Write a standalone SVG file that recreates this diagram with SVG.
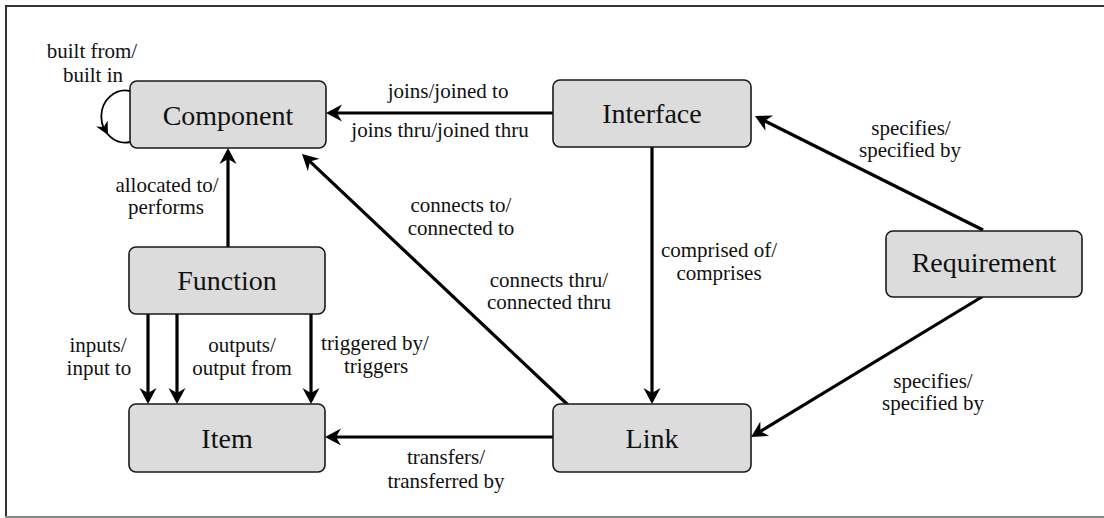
<svg xmlns="http://www.w3.org/2000/svg" width="1104" height="518" viewBox="0 0 1104 518" font-family="Times New Roman, Liberation Serif, Times, serif">
<style>
.node rect{fill:#dcdcdc;stroke:#1a1a1a;stroke-width:1.6}
.nl{font-size:28px;fill:#111;text-anchor:middle}
.el{font-size:21px;fill:#111;text-anchor:middle}
.c{stroke:#000;stroke-width:3.2;fill:none;marker-end:url(#ah)}
</style>
<defs>
<marker id="ah" markerUnits="userSpaceOnUse" viewBox="-17 -9 18 18" refX="-10" refY="0" markerWidth="18" markerHeight="18" orient="auto">
<path d="M0,0 L-16,-8.5 L-11,0 L-16,8.5 Z" fill="#000"/>
</marker>
</defs>
<rect width="1104" height="518" fill="#fff"/>
<g id="frame">
<line x1="5" y1="6" x2="1104" y2="6" stroke="#333" stroke-width="2"/>
<line x1="6" y1="5" x2="6" y2="517" stroke="#333" stroke-width="2"/>
<line x1="5" y1="517" x2="1104" y2="517" stroke="#888" stroke-width="2"/>
</g>
<g id="connectors">
<path class="c" d="M553,113 L336,113"/>
<path class="c" d="M228,247 L228,158"/>
<path class="c" d="M568,405 L309.3,160.9"/>
<path class="c" d="M652,147 L652,394"/>
<path class="c" d="M983,230 L763.9,120.5"/>
<path class="c" d="M985,295 L759.6,431.8"/>
<path class="c" d="M553,437 L335,437"/>
<path class="c" d="M148,314 L148,394"/>
<path class="c" d="M177,314 L177,394"/>
<path class="c" d="M311,314 L311,394"/>
<path d="M130,91 A24,26 0 1,0 130,142" fill="none" stroke="#000" stroke-width="1.8"/>
<polygon points="0,0 -13,-6.5 -9,0 -13,6.5" fill="#000" transform="translate(108,135) rotate(62)"/>
</g>
<g id="labels">
<text class="el" x="92" y="58">built from/</text>
<text class="el" x="93" y="82">built in</text>
<text class="el" x="167" y="192">allocated to/</text>
<text class="el" x="166" y="214">performs</text>
<text class="el" x="448" y="98">joins/joined to</text>
<text class="el" x="440" y="137">joins thru/joined thru</text>
<text class="el" x="461" y="212">connects to/</text>
<text class="el" x="461" y="235">connected to</text>
<text class="el" x="549" y="287">connects thru/</text>
<text class="el" x="549" y="309">connected thru</text>
<text class="el" x="719" y="257">comprised of/</text>
<text class="el" x="719" y="280">comprises</text>
<text class="el" x="911" y="135">specifies/</text>
<text class="el" x="910" y="157">specified by</text>
<text class="el" x="933" y="388">specifies/</text>
<text class="el" x="933" y="410">specified by</text>
<text class="el" x="446" y="464">transfers/</text>
<text class="el" x="446" y="488">transferred by</text>
<text class="el" x="98" y="352">inputs/</text>
<text class="el" x="99" y="375">input to</text>
<text class="el" x="242" y="352">outputs/</text>
<text class="el" x="242" y="375">output from</text>
<text class="el" x="375" y="350">triggered by/</text>
<text class="el" x="376" y="373">triggers</text>
</g>
<g id="component" class="node"><rect x="130" y="81" width="196" height="67" rx="7"/><text class="nl" x="228" y="125">Component</text></g>
<g id="interface" class="node"><rect x="553" y="80" width="198" height="67" rx="7"/><text class="nl" x="652" y="123">Interface</text></g>
<g id="requirement" class="node"><rect x="886" y="231" width="196" height="66" rx="7"/><text class="nl" x="984" y="272">Requirement</text></g>
<g id="function" class="node"><rect x="129" y="247" width="196" height="67" rx="7"/><text class="nl" x="227" y="290">Function</text></g>
<g id="item" class="node"><rect x="129" y="404" width="196" height="68" rx="7"/><text class="nl" x="227" y="448">Item</text></g>
<g id="link" class="node"><rect x="553" y="404" width="198" height="68" rx="7"/><text class="nl" x="652" y="448">Link</text></g>
</svg>
